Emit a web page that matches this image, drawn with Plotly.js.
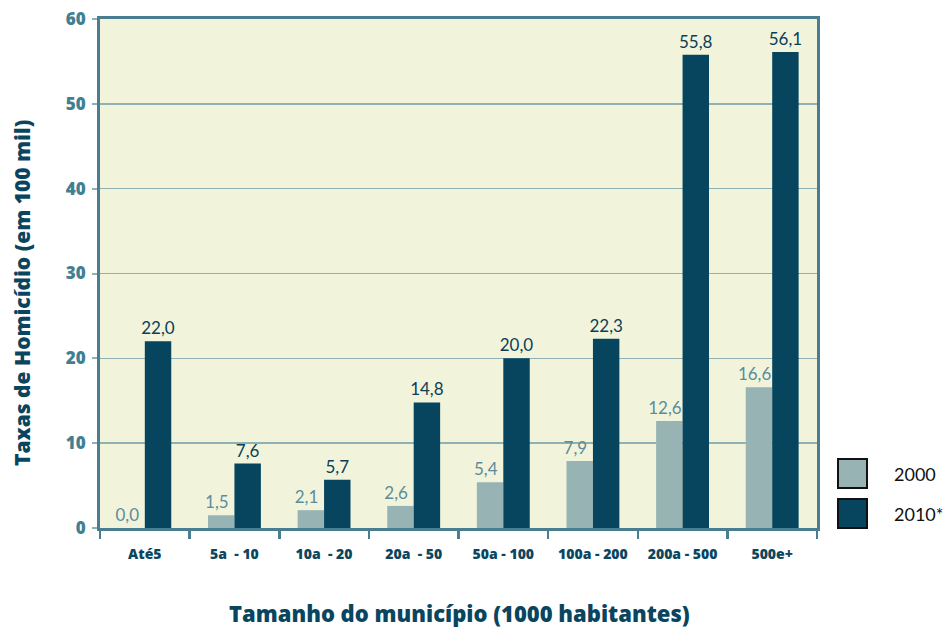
<!DOCTYPE html>
<html>
<head>
<meta charset="utf-8">
<script src="https://cdn.plot.ly/plotly-3.0.1.min.js"></script>
<style>html,body{margin:0;padding:0;background:#fff;}#chart{width:943px;height:627px;}</style>
</head>
<body>
<div id="chart"></div>
<script>
const categories = ["Até5", "5a\u00a0\u00a0- 10", "10a\u00a0\u00a0- 20", "20a\u00a0\u00a0- 50", "50a - 100", "100a - 200", "200a - 500", "500e+"];
const values2000 = [0.0, 1.5, 2.1, 2.6, 5.4, 7.9, 12.6, 16.6];
const values2010 = [22.0, 7.6, 5.7, 14.8, 20.0, 22.3, 55.8, 56.1];
const seriesNames = ["2000", "2010*"];
const yTicks = [0, 10, 20, 30, 40, 50, 60];

const W = 943, H = 627;
const L = 100, R = 126, T = 19, B = 99;
const pw = W - L - R, ph = H - T - B;
const px = x => (x - L) / pw;
const py = y => (H - B - y) / ph;

const font = "Lato, 'Open Sans', sans-serif";
const heavy = "'Open Sans', Lato, sans-serif";
const c2000 = "#97b3b3", c2010 = "#07455f";

const traces = [
  {type: "bar", name: seriesNames[0], x: categories, y: values2000,
   marker: {color: c2000}, texttemplate: "%{y:.1f}\u00a0\u00a0",
   textposition: "outside", cliponaxis: false, constraintext: "none",
   textfont: {family: font, size: 17, color: "#5c8c9b"}, hoverinfo: "none"},
  {type: "bar", name: seriesNames[1], x: categories, y: values2010,
   marker: {color: c2010}, texttemplate: "%{y:.1f}",
   textposition: "outside", cliponaxis: false, constraintext: "none",
   textfont: {family: font, size: 17, color: "#0a3f58"}, hoverinfo: "none"}
];

const axisCol = "#4b7d90";
const layout = {
  width: W, height: H,
  margin: {l: L, r: R, t: T, b: B, pad: 0},
  paper_bgcolor: "#ffffff", plot_bgcolor: "#f1f4db",
  separators: ",.",
  barmode: "group", bargap: 0.41, bargroupgap: 0,
  showlegend: false,
  font: {family: font},
  xaxis: {
    type: "category", tickson: "boundaries", ticks: "outside", ticklen: 8, tickwidth: 2.5, tickcolor: axisCol,
    showline: true, linecolor: axisCol, linewidth: 3, mirror: true, showgrid: false,
    tickfont: {family: heavy, size: 14, color: "#0b4660", weight: 800},
    ticklabelstandoff: 11
  },
  yaxis: {
    range: [0, 60], tickvals: yTicks, ticks: "outside", ticklen: 5, tickwidth: 2, tickcolor: "#8fb1b3",
    showline: true, linecolor: axisCol, linewidth: 3, mirror: true,
    showgrid: true, gridcolor: "#8fb1b3", gridwidth: 1.5, zeroline: false,
    tickfont: {family: heavy, size: 17, color: "#427f93", weight: 800},
    ticklabelstandoff: 3
  },
  annotations: [
    {text: "Taxas de Homicídio (em 100 mil)", xref: "paper", yref: "paper", x: px(22), y: py(293),
     textangle: -90, showarrow: false, xanchor: "center", yanchor: "middle",
     font: {family: heavy, size: 21, color: "#0a4560", weight: 800}},
    {text: "Tamanho do município (1000 habitantes)", xref: "paper", yref: "paper", x: px(459), y: py(613),
     showarrow: false, xanchor: "center", yanchor: "middle",
     font: {family: heavy, size: 22, color: "#0a4560", weight: 800}},
    {text: seriesNames[0], xref: "paper", yref: "paper", x: px(892), y: py(474), showarrow: false,
     xanchor: "left", yanchor: "middle", font: {family: font, size: 18, color: "#111"}},
    {text: seriesNames[1], xref: "paper", yref: "paper", x: px(892), y: py(514), showarrow: false,
     xanchor: "left", yanchor: "middle", font: {family: font, size: 18, color: "#111"}}
  ],
  shapes: [
    {type: "rect", xref: "paper", yref: "paper", x0: px(838), x1: px(867), y0: py(488), y1: py(459),
     fillcolor: c2000, line: {color: "#111", width: 2}},
    {type: "rect", xref: "paper", yref: "paper", x0: px(838), x1: px(867), y0: py(528), y1: py(499),
     fillcolor: c2010, line: {color: "#111", width: 2}}
  ]
};

Plotly.newPlot("chart", traces, layout, {staticPlot: true, displayModeBar: false});
</script>
</body>
</html>
